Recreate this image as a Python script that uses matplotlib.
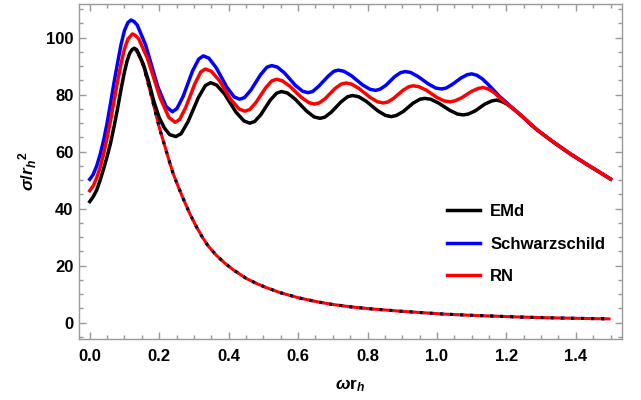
import numpy as np
import matplotlib
matplotlib.use("Agg")
import matplotlib.pyplot as plt
from matplotlib.ticker import FormatStrFormatter

# values (omega r_h, sigma / r_h^2)
emd_x = [0.0, 0.01, 0.02, 0.03, 0.04, 0.05, 0.06, 0.07, 0.08, 0.09, 0.1, 0.108, 0.115, 0.122,
         0.128, 0.135, 0.14, 0.155, 0.17, 0.185, 0.2, 0.215, 0.23, 0.248,
         0.263, 0.283, 0.313, 0.333, 0.348, 0.365, 0.388, 0.421, 0.444, 0.461,
         0.475, 0.493, 0.52, 0.538, 0.552, 0.569, 0.591, 0.624, 0.646, 0.663,
         0.677, 0.696, 0.724, 0.743, 0.757, 0.774, 0.796, 0.83, 0.852, 0.869,
         0.883, 0.903, 0.931, 0.951, 0.965, 0.982, 1.004, 1.037, 1.059, 1.076,
         1.09, 1.11, 1.138, 1.158, 1.172, 1.185, 1.2, 1.215, 1.23, 1.25, 1.27,
         1.29, 1.335, 1.383, 1.431, 1.479, 1.5]
emd_y = [42.5, 44.2, 46.5, 50.0, 54.0, 58.3, 63.0, 68.8, 75.0, 81.8, 88.0, 92.0, 94.5, 95.8,
         96.3, 95.8, 94.6, 90.5, 84.5, 77.5, 72.0, 68.3, 66.0, 65.3,
         66.3, 70.5, 79.0, 83.2, 84.2, 83.4, 80.3, 73.9, 70.8, 70.0,
         70.6, 73.0, 78.1, 80.5, 81.1, 80.6, 78.5, 74.3, 72.2, 71.7,
         72.1, 73.9, 77.5, 79.3, 79.7, 79.3, 77.7, 74.3, 72.7, 72.3,
         72.7, 74.1, 77.0, 78.4, 78.7, 78.4, 77.1, 74.5, 73.2, 72.9,
         73.2, 74.3, 76.7, 77.8, 78.1, 77.7, 76.8, 75.5, 74.0, 71.9, 69.6,
         67.5, 63.4, 59.3, 55.6, 52.0, 50.4]

sch_x = [0.0, 0.01, 0.02, 0.03, 0.04, 0.05, 0.06, 0.07, 0.08, 0.09, 0.1, 0.11, 0.119, 0.128,
         0.137, 0.161, 0.1785, 0.196, 0.22, 0.238,
         0.251, 0.269, 0.296, 0.314, 0.327, 0.343, 0.364, 0.395, 0.416, 0.432,
         0.446, 0.464, 0.492, 0.51, 0.524, 0.54, 0.561, 0.592, 0.613, 0.629,
         0.642, 0.659, 0.686, 0.703, 0.716, 0.732, 0.753, 0.786, 0.807, 0.823,
         0.836, 0.853, 0.878, 0.895, 0.908, 0.924, 0.945, 0.976, 0.997, 1.013,
         1.026, 1.043, 1.07, 1.087, 1.1, 1.115, 1.13, 1.145, 1.16, 1.18, 1.2,
         1.215, 1.23, 1.25, 1.27, 1.29, 1.335, 1.383, 1.431, 1.479, 1.5]
sch_y = [50.3, 52.0, 55.0, 59.0, 64.0, 70.0, 77.0, 84.3, 91.0, 97.5, 102.5, 105.3, 106.2, 105.6,
         104.4, 97.4, 90.1, 82.8, 75.8, 74.0,
         75.1, 79.4, 88.3, 92.5, 93.6, 92.8, 89.5, 82.6, 79.2, 78.4,
         79.0, 81.6, 87.0, 89.6, 90.2, 89.7, 87.6, 83.3, 81.2, 80.7,
         81.1, 82.9, 86.4, 88.2, 88.6, 88.2, 86.7, 83.4, 81.9, 81.5,
         81.9, 83.3, 86.3, 87.7, 88.1, 87.8, 86.4, 83.7, 82.3, 82.0,
         82.3, 83.5, 85.9, 87.0, 87.3, 86.8, 85.6, 83.9, 82.0, 79.4, 77.3,
         75.6, 74.0, 71.9, 69.6, 67.5, 63.4, 59.3, 55.6, 52.0, 50.4]

rn_x = [0.0, 0.01, 0.02, 0.03, 0.04, 0.05, 0.06, 0.07, 0.08, 0.09, 0.1, 0.11, 0.123, 0.13,
        0.141, 0.166, 0.1845, 0.203, 0.228, 0.246,
        0.259, 0.276, 0.303, 0.32, 0.333, 0.35, 0.373, 0.407, 0.43, 0.447,
        0.461, 0.479, 0.506, 0.524, 0.538, 0.554, 0.576, 0.609, 0.631, 0.647,
        0.661, 0.679, 0.706, 0.724, 0.738, 0.754, 0.775, 0.808, 0.829, 0.845,
        0.858, 0.875, 0.902, 0.919, 0.932, 0.948, 0.969, 1.0, 1.021, 1.037,
        1.051, 1.071, 1.099, 1.119, 1.133, 1.148, 1.165, 1.18, 1.2, 1.215,
        1.23, 1.25, 1.27, 1.29, 1.335, 1.383, 1.431, 1.479, 1.5]
rn_y = [46.3, 48.0, 50.8, 54.5, 59.2, 64.8, 71.0, 77.8, 84.5, 90.8, 96.0, 99.5, 101.3, 100.9,
        99.6, 92.8, 85.8, 78.8, 72.0, 70.3,
        71.3, 75.4, 83.9, 88.0, 89.0, 88.2, 85.0, 78.2, 75.0, 74.2,
        74.8, 77.3, 82.3, 84.8, 85.4, 84.9, 83.0, 79.1, 77.2, 76.7,
        77.1, 78.7, 82.1, 83.7, 84.1, 83.7, 82.2, 79.0, 77.5, 77.1,
        77.4, 78.7, 81.5, 82.8, 83.1, 82.8, 81.6, 79.0, 77.8, 77.5,
        77.8, 78.9, 81.1, 82.2, 82.5, 82.0, 80.7, 79.0, 77.0, 75.5,
        74.0, 71.9, 69.6, 67.5, 63.4, 59.3, 55.6, 52.0, 50.4]

# dashed low-frequency curves (the three lie on top of each other)
dash_x = [0.128, 0.14, 0.155, 0.165, 0.178, 0.19, 0.2, 0.211, 0.222, 0.231, 0.24, 0.255,
          0.269, 0.288, 0.307, 0.325, 0.34, 0.365, 0.39, 0.413, 0.45, 0.48, 0.509, 0.55,
          0.6, 0.653, 0.7, 0.75, 0.807, 0.9, 1.018, 1.1, 1.239, 1.3, 1.4, 1.5]
dash_y = [96.3, 94.3, 90.0, 85.5, 79.3, 73.5, 68.6, 64.1, 59.6, 55.9, 52.4, 47.7,
          43.6, 38.3, 33.7, 29.9, 27.1, 23.6, 20.8, 18.6, 15.6, 13.8, 12.3, 10.5,
          8.8, 7.4, 6.4, 5.6, 4.9, 4.0, 3.05, 2.6, 2.0, 1.8, 1.55, 1.35]

labels = ["EMd", "Schwarzschild", "RN"]
colors = ["black", "#0000ff", "#ff0000"]

plt.rcParams["font.family"] = ["Liberation Sans", "DejaVu Sans"]
plt.rcParams["font.weight"] = "bold"
plt.rcParams["mathtext.fontset"] = "custom"
plt.rcParams["mathtext.rm"] = "Liberation Sans:bold"
plt.rcParams["mathtext.bf"] = "Liberation Sans:bold"
plt.rcParams["mathtext.it"] = "Liberation Sans:bold:italic"

fig = plt.figure(figsize=(6.41, 4.0), dpi=100)
ax = fig.add_axes([0.1232, 0.1525, 0.8472, 0.8375])

# dashed curves under the solid ones
ax.plot(dash_x, dash_y, color="#0000ff", lw=2.2, linestyle=(1.0, (1.4, 1.9)), zorder=1)
ax.plot(dash_x, dash_y, color="black", lw=2.2, linestyle=(1.0, (1.0, 2.3)), zorder=1)
ax.plot(dash_x, dash_y, color="#ff0000", lw=2.2, linestyle=(0, (2.3, 1.0)), zorder=1)

ax.plot(emd_x, emd_y, color=colors[0], lw=2.5, label=labels[0], zorder=2)
ax.plot(sch_x, sch_y, color=colors[1], lw=2.5, label=labels[1], zorder=2)
ax.plot(rn_x, rn_y, color=colors[2], lw=2.5, label=labels[2], zorder=3)

ax.set_xlim(-0.031, 1.533)
ax.set_ylim(-5.7, 111.8)
ax.set_xticks(np.arange(0, 1.41, 0.2))
ax.set_xticks(np.arange(0, 1.51, 0.05), minor=True)
ax.set_yticks(np.arange(0, 101, 20))
ax.set_yticks(np.arange(-5, 111, 5), minor=True)
ax.xaxis.set_major_formatter(FormatStrFormatter("%.1f"))

for sp in ax.spines.values():
    sp.set_color("#999999")
    sp.set_linewidth(1.0)
ax.tick_params(which="both", direction="in", top=True, right=True,
               color="#999999", width=1.0, labelsize=12, labelcolor="black")
ax.tick_params(which="major", length=5)
ax.tick_params(which="minor", length=3)
ax.tick_params(axis="x", pad=7)
ax.tick_params(axis="y", pad=4)
for t in ax.get_xticklabels() + ax.get_yticklabels():
    t.set_fontweight("bold")

ax.set_xlabel(r"$\omega\mathrm{r}_h$", fontsize=12.5, labelpad=10)
ax.set_ylabel(r"$\sigma/{r_h}^{2}$", fontsize=12.5, labelpad=5)

ax.legend(loc="upper left", bbox_to_anchor=(0.697, 0.4895), bbox_transform=fig.transFigure,
          frameon=False, fontsize=12, borderpad=0, borderaxespad=0,
          handlelength=2.0, handletextpad=0.6, labelspacing=1.05)

fig.savefig("out.png", dpi=100)
